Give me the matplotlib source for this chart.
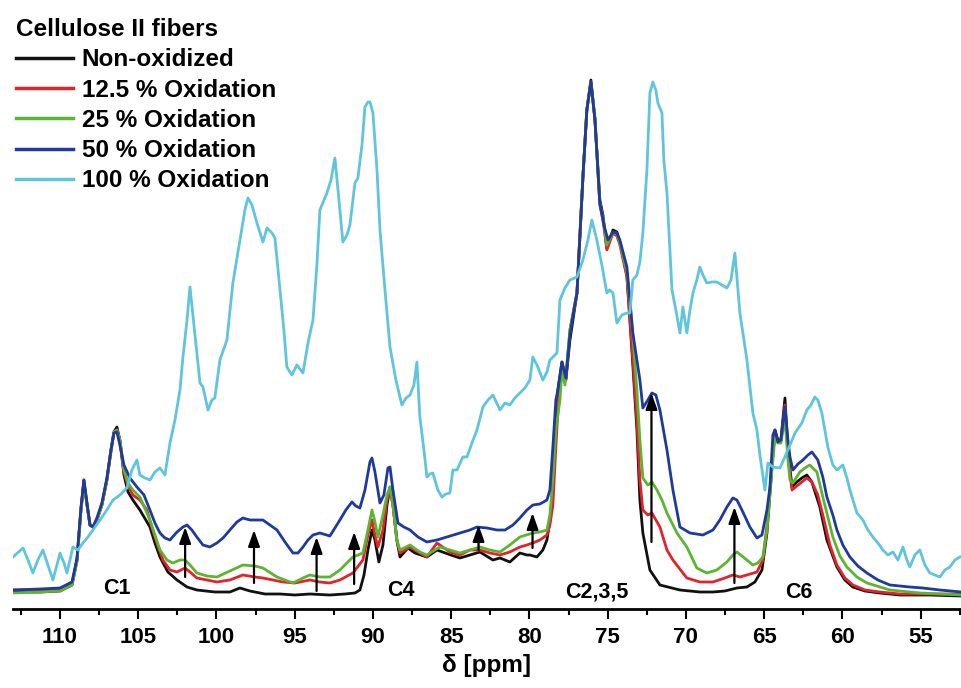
import matplotlib.pyplot as plt
from matplotlib.ticker import MultipleLocator

plt.rcParams['font.family'] = ['Liberation Sans', 'DejaVu Sans']
plt.rcParams['font.weight'] = 'bold'

# (chemical shift ppm, intensity a.u.)
non_oxidized = [(113.00,17),(111.28,17),(110.00,18),(109.23,24),(108.91,49),(108.66,99),(108.47,129),(108.27,104),(108.08,84),(107.89,82),(107.64,89),(107.32,104),(107.00,129),(106.74,159),(106.55,177),(106.36,182),(106.17,169),(105.91,134),(105.65,117),(105.34,109),(104.89,99),(104.25,82),(103.93,66),(103.61,52),(103.10,37),(102.52,29),(101.88,22),(101.25,19),(100.10,17),(99.14,17),(98.50,21),(97.86,18),(96.90,15),(95.94,15),(94.98,14),(94.03,15),(92.75,14),(91.79,15),(91.15,16),(90.83,19),(90.57,34),(90.32,59),(90.06,79),(89.87,69),(89.62,47),(89.36,64),(89.10,104),(88.91,122),(88.72,104),(88.47,69),(88.27,52),(87.76,61),(87.32,56),(86.55,52),(85.91,59),(85.02,54),(84.44,51),(83.80,54),(83.16,57),(82.33,49),(81.88,51),(81.25,47),(80.61,56),(80.16,54),(79.97,54),(79.52,52),(79.14,59),(78.88,69),(78.69,89),(78.56,109),(78.37,176),(78.18,219),(77.92,247),(77.67,229),(77.41,269),(76.96,316),(76.58,432),(76.33,499),(76.07,529),(75.81,489),(75.50,409),(75.30,394),(75.05,361),(74.66,379),(74.41,377),(74.22,367),(73.77,334),(73.39,244),(73.13,179),(72.94,109),(72.75,76),(72.30,39),(71.66,24),(70.38,19),(69.11,17),(68.27,17),(67.51,18),(66.74,21),(66.10,22),(65.59,27),(65.14,39),(64.82,76),(64.50,142),(64.31,179),(64.12,169),(63.93,169),(63.67,211),(63.48,159),(63.22,122),(62.91,127),(62.59,131),(62.27,134),(61.95,127),(61.44,102),(60.99,69),(60.35,42),(59.84,29),(59.33,22),(58.56,18),(57.60,16),(56.33,14),(54.41,14),(52.42,13)]

ox_12 = [(113.00,19),(111.28,19),(110.00,19),(109.23,25),(108.91,49),(108.66,99),(108.47,127),(108.27,104),(108.08,84),(107.89,82),(107.64,89),(107.32,104),(107.00,129),(106.74,157),(106.55,176),(106.36,179),(106.17,169),(105.91,137),(105.65,123),(105.34,114),(104.89,109),(104.44,99),(104.12,81),(103.80,66),(103.42,49),(102.97,39),(102.52,37),(102.01,41),(101.69,37),(101.25,31),(99.97,27),(99.14,29),(98.31,34),(97.54,32),(97.03,31),(95.75,27),(94.98,26),(94.03,29),(93.39,27),(92.75,26),(92.11,29),(91.28,36),(90.64,49),(90.32,74),(90.06,89),(89.87,74),(89.68,62),(89.36,79),(89.10,109),(88.91,119),(88.72,104),(88.47,69),(88.27,56),(87.63,62),(87.00,56),(86.55,52),(85.91,66),(85.08,57),(84.44,54),(83.80,59),(83.16,59),(82.52,56),(81.88,54),(81.25,57),(80.61,62),(80.16,64),(79.78,66),(79.33,69),(78.88,74),(78.69,84),(78.50,104),(78.31,162),(78.12,214),(77.92,244),(77.67,229),(77.41,279),(76.96,316),(76.58,432),(76.33,499),(76.07,527),(75.81,489),(75.50,404),(75.30,389),(75.05,359),(74.66,376),(74.41,373),(74.22,364),(73.77,332),(73.39,249),(73.13,189),(72.94,129),(72.75,99),(72.43,94),(72.17,96),(71.66,82),(71.21,59),(70.83,49),(69.94,31),(69.11,27),(68.27,27),(67.51,31),(67.00,34),(66.55,32),(66.10,34),(65.46,37),(65.08,49),(64.76,92),(64.50,147),(64.31,176),(64.12,167),(63.93,167),(63.67,204),(63.48,154),(63.22,119),(62.91,123),(62.59,127),(62.27,131),(61.95,127),(61.57,114),(61.25,94),(60.80,64),(60.35,44),(59.84,31),(59.33,24),(58.56,19),(57.60,17),(56.33,15),(54.41,15),(52.42,15)]

ox_25 = [(113.00,16),(111.28,17),(110.00,18),(109.23,24),(108.91,47),(108.66,97),(108.47,125),(108.27,104),(108.08,84),(107.89,82),(107.64,89),(107.32,104),(107.00,129),(106.74,159),(106.55,177),(106.36,179),(106.17,169),(105.91,139),(105.65,126),(105.34,119),(104.89,112),(104.25,89),(103.93,74),(103.61,59),(103.16,49),(102.78,46),(102.33,49),(102.01,49),(101.69,44),(101.25,36),(100.61,33),(99.97,32),(99.14,38),(98.31,44),(97.54,43),(97.03,41),(96.13,32),(95.11,26),(94.47,31),(94.03,34),(93.39,32),(92.75,32),(92.11,39),(91.28,52),(90.64,56),(90.32,79),(90.06,99),(89.87,87),(89.68,72),(89.36,94),(89.10,114),(88.91,122),(88.72,104),(88.47,69),(88.27,59),(87.63,64),(87.00,57),(86.55,54),(85.72,62),(85.08,59),(84.44,56),(83.80,59),(83.16,62),(82.52,59),(81.88,57),(81.25,64),(80.61,72),(79.78,76),(79.33,77),(78.88,79),(78.69,94),(78.50,129),(78.31,179),(78.05,209),(77.92,239),(77.73,224),(77.41,279),(76.96,316),(76.58,432),(76.33,499),(76.07,527),(75.81,491),(75.50,406),(75.30,391),(75.05,364),(74.66,377),(74.41,375),(74.22,366),(73.77,337),(73.39,274),(73.13,219),(72.94,169),(72.75,131),(72.43,124),(72.17,127),(71.85,119),(71.53,109),(71.21,96),(70.57,76),(69.94,62),(69.30,41),(68.66,36),(68.02,39),(67.38,47),(67.00,54),(66.74,57),(66.42,53),(66.10,49),(65.72,44),(65.40,46),(65.08,52),(64.82,79),(64.50,139),(64.31,171),(64.12,166),(63.93,166),(63.67,191),(63.48,149),(63.35,129),(63.16,126),(62.72,137),(62.40,141),(62.08,144),(61.63,137),(61.25,112),(60.61,72),(60.16,53),(59.71,42),(59.07,32),(58.43,26),(56.96,19),(55.05,16),(52.42,14)]

ox_50 = [(113.00,19),(111.28,20),(110.00,21),(109.23,27),(108.91,51),(108.66,101),(108.47,129),(108.27,106),(108.08,84),(107.89,82),(107.64,91),(107.32,106),(107.00,131),(106.74,159),(106.55,176),(106.36,177),(106.17,164),(105.91,144),(105.53,131),(105.08,122),(104.63,114),(104.25,99),(103.93,86),(103.61,76),(103.29,71),(102.97,69),(102.52,77),(102.14,82),(101.88,84),(101.57,79),(101.25,72),(100.86,64),(100.42,62),(99.97,66),(99.58,71),(99.14,79),(98.69,87),(98.31,91),(97.86,89),(97.41,89),(97.03,89),(96.58,84),(96.13,79),(95.62,67),(95.11,56),(94.79,56),(94.47,62),(94.15,69),(93.83,74),(93.39,76),(92.75,73),(92.11,89),(91.73,99),(91.34,107),(91.09,103),(90.83,101),(90.51,119),(90.19,147),(90.06,151),(89.87,137),(89.55,106),(89.30,114),(89.04,141),(88.91,142),(88.72,119),(88.40,86),(88.02,82),(87.63,79),(87.12,72),(86.55,67),(85.91,69),(85.27,72),(84.44,76),(83.80,79),(83.35,82),(82.71,81),(82.08,79),(81.56,79),(81.05,84),(80.61,91),(80.16,99),(79.78,104),(79.33,105),(78.88,109),(78.69,119),(78.50,162),(78.31,209),(78.18,219),(77.92,247),(77.67,231),(77.41,274),(77.16,299),(76.96,316),(76.58,432),(76.33,499),(76.07,527),(75.81,489),(75.50,406),(75.24,384),(74.98,369),(74.66,377),(74.41,376),(74.22,369),(73.77,342),(73.39,276),(73.13,249),(72.94,229),(72.75,201),(72.43,209),(72.17,216),(71.92,214),(71.66,199),(71.21,159),(70.83,119),(70.38,82),(69.74,76),(68.91,74),(68.27,79),(67.83,89),(67.38,102),(67.00,111),(66.74,109),(66.42,99),(65.91,82),(65.46,71),(65.14,74),(64.82,99),(64.63,122),(64.44,174),(64.31,179),(64.12,167),(63.93,169),(63.67,202),(63.48,169),(63.35,152),(63.16,139),(62.84,145),(62.52,149),(62.20,154),(61.95,157),(61.57,149),(61.25,132),(60.99,112),(60.61,94),(60.35,79),(59.97,64),(59.52,52),(59.01,43),(58.43,36),(57.73,29),(56.96,24),(55.69,22),(54.86,21),(53.77,19),(52.42,17)]

ox_100 = [(113.00,52),(112.36,61),(112.04,49),(111.73,36),(111.41,49),(111.09,59),(110.77,44),(110.45,29),(110.19,44),(110.00,56),(109.74,46),(109.55,36),(109.36,49),(109.17,62),(108.85,59),(108.53,66),(108.21,72),(107.89,79),(107.44,89),(107.00,99),(106.61,109),(106.17,114),(105.72,121),(105.40,139),(105.08,149),(104.89,134),(104.57,131),(104.25,129),(103.93,137),(103.61,141),(103.29,134),(102.97,166),(102.65,189),(102.33,219),(102.14,252),(101.88,289),(101.69,322),(101.37,274),(101.05,226),(100.86,222),(100.54,199),(100.29,209),(100.10,211),(99.78,249),(99.33,269),(98.95,326),(98.50,369),(98.18,399),(97.99,411),(97.73,404),(97.41,386),(97.03,367),(96.77,381),(96.45,376),(96.26,371),(95.94,319),(95.69,279),(95.50,242),(95.18,234),(94.86,244),(94.47,236),(94.15,266),(93.83,289),(93.58,344),(93.39,399),(92.94,416),(92.68,429),(92.43,451),(92.17,409),(91.92,367),(91.66,374),(91.47,384),(91.15,426),(90.96,431),(90.70,464),(90.51,502),(90.32,507),(90.19,507),(90.00,496),(89.74,439),(89.55,379),(89.23,319),(88.91,262),(88.53,229),(88.15,204),(87.89,211),(87.63,214),(87.38,224),(87.19,247),(87.00,192),(86.74,159),(86.55,132),(86.36,135),(86.17,136),(85.85,119),(85.59,112),(85.34,115),(85.08,116),(84.89,139),(84.63,139),(84.25,152),(83.99,152),(83.67,166),(83.35,179),(82.97,202),(82.65,209),(82.33,214),(81.88,199),(81.56,206),(81.25,204),(80.93,211),(80.61,216),(80.29,221),(79.97,229),(79.78,252),(79.46,242),(79.14,229),(78.88,237),(78.69,249),(78.24,256),(78.05,309),(77.73,321),(77.41,329),(76.96,332),(76.58,349),(76.26,369),(76.01,389),(75.69,369),(75.37,344),(75.05,316),(74.86,319),(74.66,316),(74.41,286),(74.09,294),(73.77,296),(73.58,296),(73.39,329),(73.13,334),(72.94,347),(72.75,376),(72.49,439),(72.30,516),(72.11,527),(71.92,519),(71.79,506),(71.53,496),(71.41,449),(71.21,416),(70.89,319),(70.64,299),(70.38,276),(70.19,302),(69.94,276),(69.74,299),(69.55,316),(69.30,329),(69.11,342),(68.91,334),(68.66,326),(68.34,327),(68.02,327),(67.70,324),(67.38,321),(67.12,329),(66.87,356),(66.55,296),(66.10,249),(65.72,196),(65.46,179),(65.27,154),(64.95,119),(64.76,146),(64.44,142),(63.99,141),(63.48,159),(63.03,176),(62.59,186),(62.27,199),(62.01,204),(61.76,212),(61.57,209),(61.31,196),(60.93,162),(60.61,144),(60.35,139),(59.97,144),(59.71,131),(59.52,119),(59.07,96),(58.69,89),(58.37,79),(58.05,72),(57.73,66),(57.41,59),(57.09,54),(56.77,57),(56.45,49),(56.13,62),(55.88,49),(55.69,42),(55.37,54),(55.05,59),(54.73,44),(54.41,36),(54.09,34),(53.77,32),(53.45,39),(53.13,42),(52.81,49),(52.49,52)]

labels = ['Non-oxidized', '12.5 % Oxidation', '25 % Oxidation', '50 % Oxidation', '100 % Oxidation']
colors = ['#111111', '#e3232b', '#5cb531', '#1e3a9a', '#5fc5dd']

# arrows: (ppm, tail intensity, head intensity)
arrows = [(102.0, 32, 82), (97.6, 26, 79), (93.6, 18, 72), (91.2, 25, 77),
          (83.25, 59, 84), (79.8, 61, 96), (72.2, 67, 216), (66.9, 26, 102)]

# carbon assignments: (text, ppm, intensity)
peaks = [('C1', 106.36, 20), ('C4', 88.2, 19), ('C2,3,5', 75.7, 17), ('C6', 62.8, 17)]

fig = plt.figure(figsize=(9.61, 6.88), dpi=100)
ax = fig.add_axes([13/961, 79/688, 948/961, 609/688])

for data, lab, col in zip([non_oxidized, ox_12, ox_25, ox_50, ox_100], labels, colors):
    x = [p[0] for p in data]
    y = [p[1] for p in data]
    ax.plot(x, y, color=col, lw=2.0, label=lab)

for ppm, y0, y1 in arrows:
    ax.annotate('', xy=(ppm, y1), xytext=(ppm, y0),
                arrowprops=dict(arrowstyle='-|>,head_length=0.7,head_width=0.25',
                                color='black', lw=1.6, shrinkA=0, shrinkB=0,
                                mutation_scale=14))

for txt, ppm, y in peaks:
    ax.text(ppm, y, txt, ha='center', va='center', fontsize=15.5, fontweight='bold')

ax.set_xlim(113.0, 52.42)
ax.set_ylim(0, 609)
ax.xaxis.set_major_locator(MultipleLocator(5))
ax.xaxis.set_minor_locator(MultipleLocator(2.5))
ax.tick_params(axis='x', which='major', length=7, width=1.5, labelsize=16, pad=6)
ax.tick_params(axis='x', which='minor', length=4.5, width=1.5)
ax.set_yticks([])
for s in ['left', 'right', 'top']:
    ax.spines[s].set_visible(False)
ax.spines['bottom'].set_linewidth(2)
ax.set_xlabel('δ [ppm]', fontsize=17.5, fontweight='bold', labelpad=4)

leg = ax.legend(title='Cellulose II fibers', loc='upper left',
                bbox_to_anchor=(16/961, 1 - 18/688), bbox_transform=fig.transFigure,
                frameon=False, fontsize=17.5, handlelength=2.35, handletextpad=0.35,
                labelspacing=0.3, borderpad=0, borderaxespad=0, alignment='left',
                title_fontproperties={'size': 17.5, 'weight': 'bold'})
for h in leg.get_lines():
    h.set_linewidth(2.5)

fig.savefig('out.png', dpi=100)
